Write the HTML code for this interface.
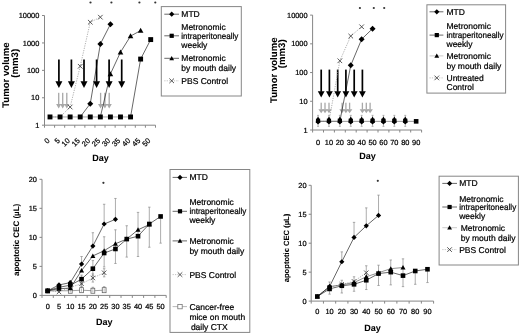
<!DOCTYPE html>
<html><head><meta charset="utf-8"><style>
html,body{margin:0;padding:0;background:#fff;}
svg{display:block;font-family:"Liberation Sans",sans-serif;text-rendering:geometricPrecision;filter:blur(0.3px);}
text{stroke:#000;stroke-width:0.22px;}
text[font-weight=bold]{stroke-width:0.05px;}
</style></head><body>
<svg width="520" height="334" viewBox="0 0 520 334">
<rect width="520" height="334" fill="#fff"/>
<path d="M44.5 15.52V125.2H155.5" stroke="#868686" stroke-width="1" fill="none"/>
<path d="M42.0 125.2H44.5" stroke="#868686" stroke-width="1"/>
<text x="39.3" y="127.85" font-size="7.4" text-anchor="end" fill="#000">1</text>
<path d="M42.0 97.78H44.5" stroke="#868686" stroke-width="1"/>
<text x="39.3" y="100.43" font-size="7.4" text-anchor="end" fill="#000">10</text>
<path d="M42.0 70.36H44.5" stroke="#868686" stroke-width="1"/>
<text x="39.3" y="73.01" font-size="7.4" text-anchor="end" fill="#000">100</text>
<path d="M42.0 42.94H44.5" stroke="#868686" stroke-width="1"/>
<text x="39.3" y="45.59" font-size="7.4" text-anchor="end" fill="#000">1000</text>
<path d="M42.0 15.52H44.5" stroke="#868686" stroke-width="1"/>
<text x="39.3" y="18.17" font-size="7.4" text-anchor="end" fill="#000">10000</text>
<path d="M44.5 125.2V127.7" stroke="#868686" stroke-width="1"/>
<path d="M54.59 125.2V127.7" stroke="#868686" stroke-width="1"/>
<path d="M64.68 125.2V127.7" stroke="#868686" stroke-width="1"/>
<path d="M74.77 125.2V127.7" stroke="#868686" stroke-width="1"/>
<path d="M84.86 125.2V127.7" stroke="#868686" stroke-width="1"/>
<path d="M94.95 125.2V127.7" stroke="#868686" stroke-width="1"/>
<path d="M105.04 125.2V127.7" stroke="#868686" stroke-width="1"/>
<path d="M115.13 125.2V127.7" stroke="#868686" stroke-width="1"/>
<path d="M125.22 125.2V127.7" stroke="#868686" stroke-width="1"/>
<path d="M135.31 125.2V127.7" stroke="#868686" stroke-width="1"/>
<path d="M145.4 125.2V127.7" stroke="#868686" stroke-width="1"/>
<path d="M155.49 125.2V127.7" stroke="#868686" stroke-width="1"/>
<text x="50.3" y="141.2" font-size="7.4" text-anchor="end" fill="#000" transform="rotate(-45 50.3 141.2)">0</text>
<text x="60.37" y="141.2" font-size="7.4" text-anchor="end" fill="#000" transform="rotate(-45 60.37 141.2)">5</text>
<text x="70.44" y="141.2" font-size="7.4" text-anchor="end" fill="#000" transform="rotate(-45 70.44 141.2)">10</text>
<text x="80.51" y="141.2" font-size="7.4" text-anchor="end" fill="#000" transform="rotate(-45 80.51 141.2)">15</text>
<text x="90.58" y="141.2" font-size="7.4" text-anchor="end" fill="#000" transform="rotate(-45 90.58 141.2)">20</text>
<text x="100.65" y="141.2" font-size="7.4" text-anchor="end" fill="#000" transform="rotate(-45 100.65 141.2)">25</text>
<text x="110.72" y="141.2" font-size="7.4" text-anchor="end" fill="#000" transform="rotate(-45 110.72 141.2)">30</text>
<text x="120.79" y="141.2" font-size="7.4" text-anchor="end" fill="#000" transform="rotate(-45 120.79 141.2)">35</text>
<text x="130.86" y="141.2" font-size="7.4" text-anchor="end" fill="#000" transform="rotate(-45 130.86 141.2)">40</text>
<text x="140.93" y="141.2" font-size="7.4" text-anchor="end" fill="#000" transform="rotate(-45 140.93 141.2)">45</text>
<text x="151" y="141.2" font-size="7.4" text-anchor="end" fill="#000" transform="rotate(-45 151 141.2)">50</text>
<text x="100.5" y="160.8" font-size="9" text-anchor="middle" font-weight="bold" fill="#000">Day</text>
<text x="0" y="0" font-size="9.6" text-anchor="middle" font-weight="bold" fill="#000" transform="translate(8.6 75.1) rotate(-90)">Tumor volume</text>
<text x="0" y="0" font-size="9.6" text-anchor="middle" font-weight="bold" fill="#000" transform="translate(17.6 63.3) rotate(-90)">(mm3)</text>
<rect x="58.05" y="59.5" width="1.7" height="22.3" fill="#000"/><path d="M55.4 81.3L62.4 81.3L58.9 88Z" fill="#000"/>
<rect x="70.55" y="59.5" width="1.7" height="22.3" fill="#000"/><path d="M67.9 81.3L74.9 81.3L71.4 88Z" fill="#000"/>
<rect x="83.15" y="59.5" width="1.7" height="22.3" fill="#000"/><path d="M80.5 81.3L87.5 81.3L84 88Z" fill="#000"/>
<rect x="95.75" y="59.5" width="1.7" height="22.3" fill="#000"/><path d="M93.1 81.3L100.1 81.3L96.6 88Z" fill="#000"/>
<rect x="108.25" y="59.5" width="1.7" height="22.3" fill="#000"/><path d="M105.6 81.3L112.6 81.3L109.1 88Z" fill="#000"/>
<rect x="120.85" y="59.5" width="1.7" height="22.3" fill="#000"/><path d="M118.2 81.3L125.2 81.3L121.7 88Z" fill="#000"/>
<rect x="58.05" y="92.8" width="1.3" height="11.7" fill="#a8a8a8"/><path d="M56.1 104L61.3 104L58.7 108.6Z" fill="#a8a8a8"/>
<rect x="62.05" y="92.8" width="1.3" height="11.7" fill="#a8a8a8"/><path d="M60.1 104L65.3 104L62.7 108.6Z" fill="#a8a8a8"/>
<rect x="66.15" y="92.8" width="1.3" height="11.7" fill="#a8a8a8"/><path d="M64.2 104L69.4 104L66.8 108.6Z" fill="#a8a8a8"/>
<rect x="99.95" y="92.8" width="1.3" height="11.7" fill="#a8a8a8"/><path d="M98 104L103.2 104L100.6 108.6Z" fill="#a8a8a8"/>
<rect x="104.25" y="92.8" width="1.3" height="11.7" fill="#a8a8a8"/><path d="M102.3 104L107.5 104L104.9 108.6Z" fill="#a8a8a8"/>
<rect x="108.55" y="92.8" width="1.3" height="11.7" fill="#a8a8a8"/><path d="M106.6 104L111.8 104L109.2 108.6Z" fill="#a8a8a8"/>
<polyline points="50,116.95 60.07,116.95 70.14,107.03 80.21,66.27 90.28,22.21 100.35,17.18" fill="none" stroke="#9a9a9a" stroke-width="0.8" stroke-dasharray="1.2,1.2"/>
<path d="M67.84 104.73L72.44 109.33M72.44 104.73L67.84 109.33" stroke="#444" stroke-width="0.9" fill="none"/>
<path d="M77.91 63.97L82.51 68.57M82.51 63.97L77.91 68.57" stroke="#444" stroke-width="0.9" fill="none"/>
<path d="M87.98 19.91L92.58 24.51M92.58 19.91L87.98 24.51" stroke="#444" stroke-width="0.9" fill="none"/>
<path d="M98.05 14.88L102.65 19.48M102.65 14.88L98.05 19.48" stroke="#444" stroke-width="0.9" fill="none"/>
<polyline points="50,116.95 130.56,116.95" fill="none" stroke="#9a9a9a" stroke-width="0.9"/>
<polyline points="100.35,116.95 110.42,73.95 120.49,52.19 130.56,36.07 140.63,30.59" fill="none" stroke="#000" stroke-width="0.6"/>
<polyline points="80.21,116.95 90.28,103.67 100.35,43.97 110.42,24.26" fill="none" stroke="#000" stroke-width="0.6"/>
<polyline points="130.56,116.95 140.63,59.07 150.7,39.59" fill="none" stroke="#000" stroke-width="0.6"/>
<path d="M110.42 71.15L113.22 76.19L107.62 76.19Z" fill="#000"/>
<path d="M120.49 49.39L123.29 54.43L117.69 54.43Z" fill="#000"/>
<path d="M130.56 33.27L133.36 38.31L127.76 38.31Z" fill="#000"/>
<path d="M140.63 27.79L143.43 32.83L137.83 32.83Z" fill="#000"/>
<path d="M90.28 100.67L93.28 103.67L90.28 106.67L87.28 103.67Z" fill="#000"/>
<path d="M100.35 40.97L103.35 43.97L100.35 46.97L97.35 43.97Z" fill="#000"/>
<path d="M110.42 21.26L113.42 24.26L110.42 27.26L107.42 24.26Z" fill="#000"/>
<rect x="47.55" y="114.5" width="4.9" height="4.9" fill="#000"/>
<rect x="57.62" y="114.5" width="4.9" height="4.9" fill="#000"/>
<rect x="67.69" y="114.5" width="4.9" height="4.9" fill="#000"/>
<rect x="77.76" y="114.5" width="4.9" height="4.9" fill="#000"/>
<rect x="87.83" y="114.5" width="4.9" height="4.9" fill="#000"/>
<rect x="97.9" y="114.5" width="4.9" height="4.9" fill="#000"/>
<rect x="107.97" y="114.5" width="4.9" height="4.9" fill="#000"/>
<rect x="118.04" y="114.5" width="4.9" height="4.9" fill="#000"/>
<rect x="128.11" y="114.5" width="4.9" height="4.9" fill="#000"/>
<rect x="138.18" y="56.62" width="4.9" height="4.9" fill="#000"/>
<rect x="148.25" y="37.14" width="4.9" height="4.9" fill="#000"/>
<circle cx="90.5" cy="2.5" r="1.1" fill="#333"/>
<circle cx="111.4" cy="2.5" r="1.1" fill="#333"/>
<circle cx="139.4" cy="2.5" r="1.1" fill="#333"/>
<circle cx="155.3" cy="2.5" r="1.1" fill="#333"/>
<rect x="161.3" y="6.6" width="80" height="89.4" fill="#fff" stroke="#868686" stroke-width="1"/>
<polyline points="164.3,14.2 179,14.2" fill="none" stroke="#000" stroke-width="0.6"/>
<path d="M171.7 11.6L174.3 14.2L171.7 16.8L169.1 14.2Z" fill="#000"/>
<text x="181.3" y="17.22" font-size="8.5" text-anchor="start" fill="#000">MTD</text>
<polyline points="164.3,35.8 179,35.8" fill="none" stroke="#000" stroke-width="0.6"/>
<rect x="169.6" y="33.7" width="4.2" height="4.2" fill="#000"/>
<text x="181.3" y="29.82" font-size="8.5" text-anchor="start" fill="#000">Metronomic</text>
<text x="181.3" y="38.82" font-size="8.5" text-anchor="start" fill="#000" textLength="57.0" lengthAdjust="spacingAndGlyphs">intraperitoneally</text>
<text x="181.3" y="47.52" font-size="8.5" text-anchor="start" fill="#000">weekly</text>
<polyline points="164.3,58.3 179,58.3" fill="none" stroke="#000" stroke-width="0.6"/>
<path d="M171.7 55.9L174.1 60.22L169.3 60.22Z" fill="#000"/>
<text x="181.3" y="61.32" font-size="8.5" text-anchor="start" fill="#000">Metronomic</text>
<text x="181.3" y="71.42" font-size="8.5" text-anchor="start" fill="#000">by mouth daily</text>
<polyline points="164.3,80.8 179,80.8" fill="none" stroke="#9a9a9a" stroke-width="0.6" stroke-dasharray="1.2,1.2"/>
<path d="M169.4 78.5L174 83.1M174 78.5L169.4 83.1" stroke="#444" stroke-width="0.9" fill="none"/>
<text x="181.3" y="83.82" font-size="8.5" text-anchor="start" fill="#000">PBS Control</text>
<path d="M312.6 15.12V130.0H421.6" stroke="#868686" stroke-width="1" fill="none"/>
<path d="M310.1 130H312.6" stroke="#868686" stroke-width="1"/>
<text x="307.6" y="132.65" font-size="7.4" text-anchor="end" fill="#000">1</text>
<path d="M310.1 101.28H312.6" stroke="#868686" stroke-width="1"/>
<text x="307.6" y="103.93" font-size="7.4" text-anchor="end" fill="#000">10</text>
<path d="M310.1 72.56H312.6" stroke="#868686" stroke-width="1"/>
<text x="307.6" y="75.21" font-size="7.4" text-anchor="end" fill="#000">100</text>
<path d="M310.1 43.84H312.6" stroke="#868686" stroke-width="1"/>
<text x="307.6" y="46.49" font-size="7.4" text-anchor="end" fill="#000">1000</text>
<path d="M310.1 15.12H312.6" stroke="#868686" stroke-width="1"/>
<text x="307.6" y="17.77" font-size="7.4" text-anchor="end" fill="#000">10000</text>
<path d="M312.6 130.0V132.5" stroke="#868686" stroke-width="1"/>
<path d="M323.5 130.0V132.5" stroke="#868686" stroke-width="1"/>
<path d="M334.4 130.0V132.5" stroke="#868686" stroke-width="1"/>
<path d="M345.3 130.0V132.5" stroke="#868686" stroke-width="1"/>
<path d="M356.2 130.0V132.5" stroke="#868686" stroke-width="1"/>
<path d="M367.1 130.0V132.5" stroke="#868686" stroke-width="1"/>
<path d="M378 130.0V132.5" stroke="#868686" stroke-width="1"/>
<path d="M388.9 130.0V132.5" stroke="#868686" stroke-width="1"/>
<path d="M399.8 130.0V132.5" stroke="#868686" stroke-width="1"/>
<path d="M410.7 130.0V132.5" stroke="#868686" stroke-width="1"/>
<path d="M421.6 130.0V132.5" stroke="#868686" stroke-width="1"/>
<text x="318.05" y="144.6" font-size="7.4" text-anchor="middle" fill="#000">0</text>
<text x="328.95" y="144.6" font-size="7.4" text-anchor="middle" fill="#000">10</text>
<text x="339.85" y="144.6" font-size="7.4" text-anchor="middle" fill="#000">20</text>
<text x="350.75" y="144.6" font-size="7.4" text-anchor="middle" fill="#000">30</text>
<text x="361.65" y="144.6" font-size="7.4" text-anchor="middle" fill="#000">40</text>
<text x="372.55" y="144.6" font-size="7.4" text-anchor="middle" fill="#000">50</text>
<text x="383.45" y="144.6" font-size="7.4" text-anchor="middle" fill="#000">60</text>
<text x="394.35" y="144.6" font-size="7.4" text-anchor="middle" fill="#000">70</text>
<text x="405.25" y="144.6" font-size="7.4" text-anchor="middle" fill="#000">80</text>
<text x="416.15" y="144.6" font-size="7.4" text-anchor="middle" fill="#000">90</text>
<text x="367.4" y="159.4" font-size="9" text-anchor="middle" font-weight="bold" fill="#000">Day</text>
<text x="0" y="0" font-size="9.6" text-anchor="middle" font-weight="bold" fill="#000" transform="translate(277.4 70.2) rotate(-90)">Tumor volume</text>
<text x="0" y="0" font-size="9.6" text-anchor="middle" font-weight="bold" fill="#000" transform="translate(285.1 53.8) rotate(-90)">(mm3)</text>
<rect x="320.35" y="69.6" width="1.7" height="22.2" fill="#000"/><path d="M317.8 91.3L324.6 91.3L321.2 97.6Z" fill="#000"/>
<rect x="328.55" y="69.6" width="1.7" height="22.2" fill="#000"/><path d="M326 91.3L332.8 91.3L329.4 97.6Z" fill="#000"/>
<rect x="336.85" y="69.6" width="1.7" height="22.2" fill="#000"/><path d="M334.3 91.3L341.1 91.3L337.7 97.6Z" fill="#000"/>
<rect x="345.05" y="69.6" width="1.7" height="22.2" fill="#000"/><path d="M342.5 91.3L349.3 91.3L345.9 97.6Z" fill="#000"/>
<rect x="353.35" y="69.6" width="1.7" height="22.2" fill="#000"/><path d="M350.8 91.3L357.6 91.3L354.2 97.6Z" fill="#000"/>
<rect x="361.55" y="69.6" width="1.7" height="22.2" fill="#000"/><path d="M359 91.3L365.8 91.3L362.4 97.6Z" fill="#000"/>
<rect x="320.55" y="102.7" width="1.3" height="7" fill="#a8a8a8"/><path d="M318.4 109.2L324 109.2L321.2 113.2Z" fill="#a8a8a8"/>
<rect x="324.35" y="102.7" width="1.3" height="7" fill="#a8a8a8"/><path d="M322.2 109.2L327.8 109.2L325 113.2Z" fill="#a8a8a8"/>
<rect x="328.35" y="102.7" width="1.3" height="7" fill="#a8a8a8"/><path d="M326.2 109.2L331.8 109.2L329 113.2Z" fill="#a8a8a8"/>
<rect x="341.45" y="102.7" width="1.3" height="7" fill="#a8a8a8"/><path d="M339.3 109.2L344.9 109.2L342.1 113.2Z" fill="#a8a8a8"/>
<rect x="345.25" y="102.7" width="1.3" height="7" fill="#a8a8a8"/><path d="M343.1 109.2L348.7 109.2L345.9 113.2Z" fill="#a8a8a8"/>
<rect x="348.95" y="102.7" width="1.3" height="7" fill="#a8a8a8"/><path d="M346.8 109.2L352.4 109.2L349.6 113.2Z" fill="#a8a8a8"/>
<rect x="361.75" y="102.7" width="1.3" height="7" fill="#a8a8a8"/><path d="M359.6 109.2L365.2 109.2L362.4 113.2Z" fill="#a8a8a8"/>
<rect x="365.65" y="102.7" width="1.3" height="7" fill="#a8a8a8"/><path d="M363.5 109.2L369.1 109.2L366.3 113.2Z" fill="#a8a8a8"/>
<rect x="369.45" y="102.7" width="1.3" height="7" fill="#a8a8a8"/><path d="M367.3 109.2L372.9 109.2L370.1 113.2Z" fill="#a8a8a8"/>
<polyline points="318.05,121.35 328.95,121.35 339.85,60.79 350.75,36.1 361.65,26.77" fill="none" stroke="#9a9a9a" stroke-width="0.8" stroke-dasharray="1.2,1.2"/>
<path d="M337.55 58.49L342.15 63.09M342.15 58.49L337.55 63.09" stroke="#444" stroke-width="0.9" fill="none"/>
<path d="M348.45 33.8L353.05 38.4M353.05 33.8L348.45 38.4" stroke="#444" stroke-width="0.9" fill="none"/>
<path d="M359.35 24.47L363.95 29.07M363.95 24.47L359.35 29.07" stroke="#444" stroke-width="0.9" fill="none"/>
<polyline points="318.05,121.35 328.95,121.35 339.85,121.35 350.75,65.37 361.65,39.21 372.55,28.65" fill="none" stroke="#000" stroke-width="0.6"/>
<polyline points="318.05,121.35 328.95,121.35 339.85,121.35 350.75,121.35 361.65,121.35 372.55,121.35 383.45,121.35 394.35,121.35 405.25,121.35 416.15,121.35" fill="none" stroke="#8a8a8a" stroke-width="0.9"/>
<path d="M318.05 115.35V126.35M317.05 115.35H319.05M317.05 126.35H319.05" stroke="#8a8a8a" stroke-width="0.6"/>
<path d="M328.95 115.35V126.35M327.95 115.35H329.95M327.95 126.35H329.95" stroke="#8a8a8a" stroke-width="0.6"/>
<path d="M339.85 115.35V126.35M338.85 115.35H340.85M338.85 126.35H340.85" stroke="#8a8a8a" stroke-width="0.6"/>
<path d="M350.75 115.35V126.35M349.75 115.35H351.75M349.75 126.35H351.75" stroke="#8a8a8a" stroke-width="0.6"/>
<path d="M361.65 115.35V126.35M360.65 115.35H362.65M360.65 126.35H362.65" stroke="#8a8a8a" stroke-width="0.6"/>
<path d="M372.55 115.35V126.35M371.55 115.35H373.55M371.55 126.35H373.55" stroke="#8a8a8a" stroke-width="0.6"/>
<path d="M383.45 115.35V126.35M382.45 115.35H384.45M382.45 126.35H384.45" stroke="#8a8a8a" stroke-width="0.6"/>
<path d="M394.35 115.35V126.35M393.35 115.35H395.35M393.35 126.35H395.35" stroke="#8a8a8a" stroke-width="0.6"/>
<path d="M405.25 115.35V126.35M404.25 115.35H406.25M404.25 126.35H406.25" stroke="#8a8a8a" stroke-width="0.6"/>
<path d="M318.05 116.45L320.35 120.59L315.75 120.59Z" fill="#000"/>
<path d="M318.05 119.35L320.65 121.95L318.05 124.55L315.45 121.95Z" fill="#000"/>
<rect x="315.95" y="118.65" width="4.2" height="4.2" fill="#000"/>
<path d="M328.95 116.45L331.25 120.59L326.65 120.59Z" fill="#000"/>
<path d="M328.95 119.35L331.55 121.95L328.95 124.55L326.35 121.95Z" fill="#000"/>
<rect x="326.85" y="118.65" width="4.2" height="4.2" fill="#000"/>
<path d="M339.85 116.45L342.15 120.59L337.55 120.59Z" fill="#000"/>
<path d="M339.85 119.35L342.45 121.95L339.85 124.55L337.25 121.95Z" fill="#000"/>
<rect x="337.75" y="118.65" width="4.2" height="4.2" fill="#000"/>
<path d="M350.75 116.45L353.05 120.59L348.45 120.59Z" fill="#000"/>
<path d="M350.75 119.35L353.35 121.95L350.75 124.55L348.15 121.95Z" fill="#000"/>
<rect x="348.65" y="118.65" width="4.2" height="4.2" fill="#000"/>
<path d="M361.65 116.45L363.95 120.59L359.35 120.59Z" fill="#000"/>
<path d="M361.65 119.35L364.25 121.95L361.65 124.55L359.05 121.95Z" fill="#000"/>
<rect x="359.55" y="118.65" width="4.2" height="4.2" fill="#000"/>
<path d="M372.55 116.45L374.85 120.59L370.25 120.59Z" fill="#000"/>
<path d="M372.55 119.35L375.15 121.95L372.55 124.55L369.95 121.95Z" fill="#000"/>
<rect x="370.45" y="118.65" width="4.2" height="4.2" fill="#000"/>
<path d="M383.45 116.45L385.75 120.59L381.15 120.59Z" fill="#000"/>
<path d="M383.45 119.35L386.05 121.95L383.45 124.55L380.85 121.95Z" fill="#000"/>
<rect x="381.35" y="118.65" width="4.2" height="4.2" fill="#000"/>
<path d="M394.35 116.45L396.65 120.59L392.05 120.59Z" fill="#000"/>
<path d="M394.35 119.35L396.95 121.95L394.35 124.55L391.75 121.95Z" fill="#000"/>
<rect x="392.25" y="118.65" width="4.2" height="4.2" fill="#000"/>
<path d="M405.25 116.45L407.55 120.59L402.95 120.59Z" fill="#000"/>
<path d="M405.25 119.35L407.85 121.95L405.25 124.55L402.65 121.95Z" fill="#000"/>
<rect x="403.15" y="118.65" width="4.2" height="4.2" fill="#000"/>
<rect x="413.85" y="119.05" width="4.6" height="4.6" fill="#000"/>
<path d="M350.75 62.37L353.75 65.37L350.75 68.37L347.75 65.37Z" fill="#000"/>
<path d="M361.65 36.21L364.65 39.21L361.65 42.21L358.65 39.21Z" fill="#000"/>
<path d="M372.55 25.65L375.55 28.65L372.55 31.65L369.55 28.65Z" fill="#000"/>
<circle cx="359.9" cy="8" r="1.1" fill="#333"/>
<circle cx="373.8" cy="8" r="1.1" fill="#333"/>
<circle cx="384.2" cy="8" r="1.1" fill="#333"/>
<rect x="426.9" y="4.8" width="78.7" height="88.3" fill="#fff" stroke="#868686" stroke-width="1"/>
<polyline points="429.5,11.8 443.4,11.8" fill="none" stroke="#000" stroke-width="0.6"/>
<path d="M436.8 9.2L439.4 11.8L436.8 14.4L434.2 11.8Z" fill="#000"/>
<text x="446.5" y="14.82" font-size="8.5" text-anchor="start" fill="#000">MTD</text>
<polyline points="429.5,35.1 443.4,35.1" fill="none" stroke="#000" stroke-width="0.6"/>
<rect x="434.7" y="33" width="4.2" height="4.2" fill="#000"/>
<text x="446.5" y="29.32" font-size="8.5" text-anchor="start" fill="#000">Metronomic</text>
<text x="446.5" y="38.12" font-size="8.5" text-anchor="start" fill="#000" textLength="57.0" lengthAdjust="spacingAndGlyphs">intraperitoneally</text>
<text x="446.5" y="46.82" font-size="8.5" text-anchor="start" fill="#000">weekly</text>
<polyline points="429.5,55.9 443.4,55.9" fill="none" stroke="#a8a8a8" stroke-width="0.6"/>
<path d="M436.8 53.5L439.2 57.82L434.4 57.82Z" fill="#000"/>
<text x="446.5" y="58.92" font-size="8.5" text-anchor="start" fill="#000">Metronomic</text>
<text x="446.5" y="68.82" font-size="8.5" text-anchor="start" fill="#000">by mouth daily</text>
<polyline points="429.5,77.9 443.4,77.9" fill="none" stroke="#9a9a9a" stroke-width="0.6" stroke-dasharray="1.2,1.2"/>
<path d="M434.5 75.6L439.1 80.2M439.1 75.6L434.5 80.2" stroke="#444" stroke-width="0.9" fill="none"/>
<text x="446.5" y="80.92" font-size="8.5" text-anchor="start" fill="#000">Untreated</text>
<text x="446.5" y="90.42" font-size="8.5" text-anchor="start" fill="#000">Control</text>
<path d="M42.0 179.3V295.4H166.2" stroke="#868686" stroke-width="1" fill="none"/>
<path d="M39.5 295.4H42.0" stroke="#868686" stroke-width="1"/>
<text x="36.9" y="298.05" font-size="7.4" text-anchor="end" fill="#000">0</text>
<path d="M39.5 266.38H42.0" stroke="#868686" stroke-width="1"/>
<text x="36.9" y="269.02" font-size="7.4" text-anchor="end" fill="#000">5</text>
<path d="M39.5 237.35H42.0" stroke="#868686" stroke-width="1"/>
<text x="36.9" y="240" font-size="7.4" text-anchor="end" fill="#000">10</text>
<path d="M39.5 208.32H42.0" stroke="#868686" stroke-width="1"/>
<text x="36.9" y="210.97" font-size="7.4" text-anchor="end" fill="#000">15</text>
<path d="M39.5 179.3H42.0" stroke="#868686" stroke-width="1"/>
<text x="36.9" y="181.95" font-size="7.4" text-anchor="end" fill="#000">20</text>
<path d="M42 295.4V297.9" stroke="#868686" stroke-width="1"/>
<path d="M53.29 295.4V297.9" stroke="#868686" stroke-width="1"/>
<path d="M64.58 295.4V297.9" stroke="#868686" stroke-width="1"/>
<path d="M75.87 295.4V297.9" stroke="#868686" stroke-width="1"/>
<path d="M87.16 295.4V297.9" stroke="#868686" stroke-width="1"/>
<path d="M98.45 295.4V297.9" stroke="#868686" stroke-width="1"/>
<path d="M109.74 295.4V297.9" stroke="#868686" stroke-width="1"/>
<path d="M121.03 295.4V297.9" stroke="#868686" stroke-width="1"/>
<path d="M132.32 295.4V297.9" stroke="#868686" stroke-width="1"/>
<path d="M143.61 295.4V297.9" stroke="#868686" stroke-width="1"/>
<path d="M154.9 295.4V297.9" stroke="#868686" stroke-width="1"/>
<path d="M166.19 295.4V297.9" stroke="#868686" stroke-width="1"/>
<text x="47.7" y="309.4" font-size="7.4" text-anchor="middle" fill="#000">0</text>
<text x="58.99" y="309.4" font-size="7.4" text-anchor="middle" fill="#000">5</text>
<text x="70.28" y="309.4" font-size="7.4" text-anchor="middle" fill="#000">10</text>
<text x="81.57" y="309.4" font-size="7.4" text-anchor="middle" fill="#000">15</text>
<text x="92.86" y="309.4" font-size="7.4" text-anchor="middle" fill="#000">20</text>
<text x="104.15" y="309.4" font-size="7.4" text-anchor="middle" fill="#000">25</text>
<text x="115.44" y="309.4" font-size="7.4" text-anchor="middle" fill="#000">30</text>
<text x="126.73" y="309.4" font-size="7.4" text-anchor="middle" fill="#000">35</text>
<text x="138.02" y="309.4" font-size="7.4" text-anchor="middle" fill="#000">40</text>
<text x="149.31" y="309.4" font-size="7.4" text-anchor="middle" fill="#000">45</text>
<text x="160.6" y="309.4" font-size="7.4" text-anchor="middle" fill="#000">50</text>
<text x="104.2" y="325" font-size="9" text-anchor="middle" font-weight="bold" fill="#000">Day</text>
<text x="0" y="0" font-size="8.0" text-anchor="middle" font-weight="bold" fill="#000" transform="translate(19.0 239.8) rotate(-90)">apoptotic CEC (µL)</text>
<path d="M81.57 256.51V264.05M80.37 256.51H82.77M80.37 264.05H82.77" stroke="#8a8a8a" stroke-width="0.7"/>
<path d="M92.86 232.71V246.06M91.66 232.71H94.06M91.66 246.06H94.06" stroke="#8a8a8a" stroke-width="0.7"/>
<path d="M104.15 204.26V223.42M102.95 204.26H105.35M102.95 223.42H105.35" stroke="#8a8a8a" stroke-width="0.7"/>
<path d="M115.44 198.46V218.77M114.24 198.46H116.64M114.24 218.77H116.64" stroke="#8a8a8a" stroke-width="0.7"/>
<path d="M104.15 236.77V266.96M102.95 236.77H105.35M102.95 266.96H105.35" stroke="#8a8a8a" stroke-width="0.7"/>
<path d="M115.44 229.8V263.47M114.24 229.8H116.64M114.24 263.47H116.64" stroke="#8a8a8a" stroke-width="0.7"/>
<path d="M126.73 225.74V257.09M125.53 225.74H127.93M125.53 257.09H127.93" stroke="#8a8a8a" stroke-width="0.7"/>
<path d="M138.02 212.39V256.51M136.82 212.39H139.22M136.82 256.51H139.22" stroke="#8a8a8a" stroke-width="0.7"/>
<path d="M149.31 207.16V247.22M148.11 207.16H150.51M148.11 247.22H150.51" stroke="#8a8a8a" stroke-width="0.7"/>
<path d="M160.6 216.45V243.15M159.4 216.45H161.8M159.4 243.15H161.8" stroke="#8a8a8a" stroke-width="0.7"/>
<path d="M92.86 260.57V275.66M91.66 260.57H94.06M91.66 275.66H94.06" stroke="#8a8a8a" stroke-width="0.7"/>
<path d="M81.57 275.08V283.79M80.37 275.08H82.77M80.37 283.79H82.77" stroke="#8a8a8a" stroke-width="0.7"/>
<path d="M58.99 283.79V289.59M57.79 283.79H60.19M57.79 289.59H60.19" stroke="#8a8a8a" stroke-width="0.7"/>
<path d="M70.28 280.89V288.43M69.08 280.89H71.48M69.08 288.43H71.48" stroke="#8a8a8a" stroke-width="0.7"/>
<path d="M81.57 279.73V287.27M80.37 279.73H82.77M80.37 287.27H82.77" stroke="#8a8a8a" stroke-width="0.7"/>
<path d="M92.86 273.92V282.05M91.66 273.92H94.06M91.66 282.05H94.06" stroke="#8a8a8a" stroke-width="0.7"/>
<path d="M104.15 268.7V276.82M102.95 268.7H105.35M102.95 276.82H105.35" stroke="#8a8a8a" stroke-width="0.7"/>
<path d="M81.57 286.69V290.18M80.37 286.69H82.77M80.37 290.18H82.77" stroke="#8a8a8a" stroke-width="0.7"/>
<path d="M92.86 287.27V290.76M91.66 287.27H94.06M91.66 290.76H94.06" stroke="#8a8a8a" stroke-width="0.7"/>
<path d="M104.15 286.69V290.18M102.95 286.69H105.35M102.95 290.18H105.35" stroke="#8a8a8a" stroke-width="0.7"/>
<polyline points="47.7,290.76 58.99,290.76 70.28,290.76 81.57,290.18 92.86,290.76 104.15,290.18" fill="none" stroke="#888" stroke-width="0.8"/>
<polyline points="47.7,290.76 58.99,291.92 70.28,287.27 81.57,283.79 92.86,277.98 104.15,272.76" fill="none" stroke="#9a9a9a" stroke-width="0.8" stroke-dasharray="1.2,1.2"/>
<polyline points="47.7,290.76 58.99,288.72 70.28,288.14 81.57,270.44 92.86,255.93 104.15,250.7 115.44,243.74 126.73,239.09 138.02,229.8 149.31,224.58" fill="none" stroke="#000" stroke-width="0.6"/>
<polyline points="47.7,290.76 58.99,287.27 70.28,285.24 81.57,279.15 92.86,268.7 104.15,253.02 115.44,248.96 126.73,239.09 138.02,236.19 149.31,224 160.6,216.45" fill="none" stroke="#000" stroke-width="0.6"/>
<polyline points="47.7,290.76 58.99,284.95 70.28,282.63 81.57,264.05 92.86,246.06 104.15,224 115.44,219.35" fill="none" stroke="#000" stroke-width="0.6"/>
<rect x="68.38" y="288.26" width="3.8" height="5" fill="#fff" stroke="#666" stroke-width="0.8"/>
<path d="M70.28 289.16V292.36" stroke="#888" stroke-width="0.6"/>
<rect x="79.67" y="287.68" width="3.8" height="5" fill="#fff" stroke="#666" stroke-width="0.8"/>
<path d="M81.57 288.58V291.78" stroke="#888" stroke-width="0.6"/>
<rect x="90.96" y="288.26" width="3.8" height="5" fill="#fff" stroke="#666" stroke-width="0.8"/>
<path d="M92.86 289.16V292.36" stroke="#888" stroke-width="0.6"/>
<rect x="102.25" y="287.68" width="3.8" height="5" fill="#fff" stroke="#666" stroke-width="0.8"/>
<path d="M104.15 288.58V291.78" stroke="#888" stroke-width="0.6"/>
<path d="M56.79 289.72L61.19 294.12M61.19 289.72L56.79 294.12" stroke="#444" stroke-width="0.9" fill="none"/>
<path d="M68.08 285.07L72.48 289.47M72.48 285.07L68.08 289.47" stroke="#444" stroke-width="0.9" fill="none"/>
<path d="M79.37 281.59L83.77 285.99M83.77 281.59L79.37 285.99" stroke="#444" stroke-width="0.9" fill="none"/>
<path d="M90.66 275.78L95.06 280.18M95.06 275.78L90.66 280.18" stroke="#444" stroke-width="0.9" fill="none"/>
<path d="M101.95 270.56L106.35 274.96M106.35 270.56L101.95 274.96" stroke="#444" stroke-width="0.9" fill="none"/>
<path d="M47.7 288.26L50.2 292.76L45.2 292.76Z" fill="#000"/>
<path d="M58.99 286.22L61.49 290.72L56.49 290.72Z" fill="#000"/>
<path d="M70.28 285.64L72.78 290.14L67.78 290.14Z" fill="#000"/>
<path d="M81.57 267.94L84.07 272.44L79.07 272.44Z" fill="#000"/>
<path d="M92.86 253.43L95.36 257.93L90.36 257.93Z" fill="#000"/>
<path d="M104.15 248.2L106.65 252.7L101.65 252.7Z" fill="#000"/>
<path d="M115.44 241.24L117.94 245.74L112.94 245.74Z" fill="#000"/>
<path d="M126.73 236.59L129.23 241.09L124.23 241.09Z" fill="#000"/>
<path d="M138.02 227.3L140.52 231.8L135.52 231.8Z" fill="#000"/>
<path d="M149.31 222.08L151.81 226.58L146.81 226.58Z" fill="#000"/>
<rect x="45.4" y="288.46" width="4.6" height="4.6" fill="#000"/>
<rect x="56.69" y="284.97" width="4.6" height="4.6" fill="#000"/>
<rect x="67.98" y="282.94" width="4.6" height="4.6" fill="#000"/>
<rect x="79.27" y="276.85" width="4.6" height="4.6" fill="#000"/>
<rect x="90.56" y="266.4" width="4.6" height="4.6" fill="#000"/>
<rect x="101.85" y="250.72" width="4.6" height="4.6" fill="#000"/>
<rect x="113.14" y="246.66" width="4.6" height="4.6" fill="#000"/>
<rect x="124.43" y="236.79" width="4.6" height="4.6" fill="#000"/>
<rect x="135.72" y="233.89" width="4.6" height="4.6" fill="#000"/>
<rect x="147.01" y="221.7" width="4.6" height="4.6" fill="#000"/>
<rect x="158.3" y="214.15" width="4.6" height="4.6" fill="#000"/>
<path d="M47.7 288.16L50.3 290.76L47.7 293.36L45.1 290.76Z" fill="#000"/>
<path d="M58.99 282.35L61.59 284.95L58.99 287.55L56.39 284.95Z" fill="#000"/>
<path d="M70.28 280.03L72.88 282.63L70.28 285.23L67.68 282.63Z" fill="#000"/>
<path d="M81.57 261.45L84.17 264.05L81.57 266.65L78.97 264.05Z" fill="#000"/>
<path d="M92.86 243.46L95.46 246.06L92.86 248.66L90.26 246.06Z" fill="#000"/>
<path d="M104.15 221.4L106.75 224L104.15 226.6L101.55 224Z" fill="#000"/>
<path d="M115.44 216.75L118.04 219.35L115.44 221.95L112.84 219.35Z" fill="#000"/>
<rect x="45.4" y="288.75" width="4.6" height="4.6" fill="#000"/>
<circle cx="103.4" cy="182.8" r="1.1" fill="#333"/>
<rect x="170" y="169.5" width="79.8" height="162.9" fill="#fff" stroke="#868686" stroke-width="1"/>
<polyline points="172.6,177.4 187,177.4" fill="none" stroke="#000" stroke-width="0.6"/>
<path d="M180 174.8L182.6 177.4L180 180L177.4 177.4Z" fill="#000"/>
<text x="189.4" y="180.42" font-size="8.5" text-anchor="start" fill="#000">MTD</text>
<polyline points="172.6,211.3 187,211.3" fill="none" stroke="#000" stroke-width="0.6"/>
<rect x="177.9" y="209.2" width="4.2" height="4.2" fill="#000"/>
<text x="189.4" y="204.82" font-size="8.5" text-anchor="start" fill="#000">Metronomic</text>
<text x="189.4" y="214.32" font-size="8.5" text-anchor="start" fill="#000" textLength="57.0" lengthAdjust="spacingAndGlyphs">intraperitoneally</text>
<text x="189.4" y="223.02" font-size="8.5" text-anchor="start" fill="#000">weekly</text>
<polyline points="172.6,240.9 187,240.9" fill="none" stroke="#000" stroke-width="0.6"/>
<path d="M180 238.5L182.4 242.82L177.6 242.82Z" fill="#000"/>
<text x="189.4" y="243.92" font-size="8.5" text-anchor="start" fill="#000">Metronomic</text>
<text x="189.4" y="254.32" font-size="8.5" text-anchor="start" fill="#000">by mouth daily</text>
<polyline points="172.6,274.6 187,274.6" fill="none" stroke="#9a9a9a" stroke-width="0.6" stroke-dasharray="1.2,1.2"/>
<path d="M177.7 272.3L182.3 276.9M182.3 272.3L177.7 276.9" stroke="#444" stroke-width="0.9" fill="none"/>
<text x="189.4" y="277.62" font-size="8.5" text-anchor="start" fill="#000">PBS Control</text>
<polyline points="172.6,306.6 187,306.6" fill="none" stroke="#888" stroke-width="0.6"/>
<rect x="177.8" y="304.4" width="4.4" height="4.4" fill="#fff" stroke="#777" stroke-width="0.8"/>
<text x="189.4" y="309.82" font-size="8.5" text-anchor="start" fill="#000">Cancer-free</text>
<text x="189.4" y="319.92" font-size="8.5" text-anchor="start" fill="#000">mice on mouth</text>
<text x="190.9" y="329.62" font-size="8.5" text-anchor="start" fill="#000">daily CTX</text>
<path d="M311.2 185.3V301.1H433.6" stroke="#868686" stroke-width="1" fill="none"/>
<path d="M308.7 301.1H311.2" stroke="#868686" stroke-width="1"/>
<text x="306.6" y="303.75" font-size="7.4" text-anchor="end" fill="#000">0</text>
<path d="M308.7 272.15H311.2" stroke="#868686" stroke-width="1"/>
<text x="306.6" y="274.8" font-size="7.4" text-anchor="end" fill="#000">5</text>
<path d="M308.7 243.2H311.2" stroke="#868686" stroke-width="1"/>
<text x="306.6" y="245.85" font-size="7.4" text-anchor="end" fill="#000">10</text>
<path d="M308.7 214.25H311.2" stroke="#868686" stroke-width="1"/>
<text x="306.6" y="216.9" font-size="7.4" text-anchor="end" fill="#000">15</text>
<path d="M308.7 185.3H311.2" stroke="#868686" stroke-width="1"/>
<text x="306.6" y="187.95" font-size="7.4" text-anchor="end" fill="#000">20</text>
<path d="M311.2 301.1V303.6" stroke="#868686" stroke-width="1"/>
<path d="M323.44 301.1V303.6" stroke="#868686" stroke-width="1"/>
<path d="M335.68 301.1V303.6" stroke="#868686" stroke-width="1"/>
<path d="M347.92 301.1V303.6" stroke="#868686" stroke-width="1"/>
<path d="M360.16 301.1V303.6" stroke="#868686" stroke-width="1"/>
<path d="M372.4 301.1V303.6" stroke="#868686" stroke-width="1"/>
<path d="M384.64 301.1V303.6" stroke="#868686" stroke-width="1"/>
<path d="M396.88 301.1V303.6" stroke="#868686" stroke-width="1"/>
<path d="M409.12 301.1V303.6" stroke="#868686" stroke-width="1"/>
<path d="M421.36 301.1V303.6" stroke="#868686" stroke-width="1"/>
<path d="M433.6 301.1V303.6" stroke="#868686" stroke-width="1"/>
<text x="317.32" y="314.3" font-size="7.4" text-anchor="middle" fill="#000">0</text>
<text x="329.56" y="314.3" font-size="7.4" text-anchor="middle" fill="#000">10</text>
<text x="341.8" y="314.3" font-size="7.4" text-anchor="middle" fill="#000">20</text>
<text x="354.04" y="314.3" font-size="7.4" text-anchor="middle" fill="#000">30</text>
<text x="366.28" y="314.3" font-size="7.4" text-anchor="middle" fill="#000">40</text>
<text x="378.52" y="314.3" font-size="7.4" text-anchor="middle" fill="#000">50</text>
<text x="390.76" y="314.3" font-size="7.4" text-anchor="middle" fill="#000">60</text>
<text x="403" y="314.3" font-size="7.4" text-anchor="middle" fill="#000">70</text>
<text x="415.24" y="314.3" font-size="7.4" text-anchor="middle" fill="#000">80</text>
<text x="427.48" y="314.3" font-size="7.4" text-anchor="middle" fill="#000">90</text>
<text x="372.4" y="330.6" font-size="9" text-anchor="middle" font-weight="bold" fill="#000">Day</text>
<text x="0" y="0" font-size="7.6" text-anchor="middle" font-weight="bold" fill="#000" transform="translate(288.6 248.0) rotate(-90)">apoptotic CEC (µL)</text>
<path d="M341.8 251.89V261.73M340.6 251.89H343M340.6 261.73H343" stroke="#8a8a8a" stroke-width="0.7"/>
<path d="M354.04 222.36V237.41M352.84 222.36H355.24M352.84 237.41H355.24" stroke="#8a8a8a" stroke-width="0.7"/>
<path d="M366.28 207.88V225.83M365.08 207.88H367.48M365.08 225.83H367.48" stroke="#8a8a8a" stroke-width="0.7"/>
<path d="M378.52 195.14V215.41M377.32 195.14H379.72M377.32 215.41H379.72" stroke="#8a8a8a" stroke-width="0.7"/>
<path d="M329.56 281.99V294.15M328.36 281.99H330.76M328.36 294.15H330.76" stroke="#8a8a8a" stroke-width="0.7"/>
<path d="M341.8 280.26V292.99M340.6 280.26H343M340.6 292.99H343" stroke="#8a8a8a" stroke-width="0.7"/>
<path d="M354.04 276.78V291.26M352.84 276.78H355.24M352.84 291.26H355.24" stroke="#8a8a8a" stroke-width="0.7"/>
<path d="M366.28 265.78V289.52M365.08 265.78H367.48M365.08 289.52H367.48" stroke="#8a8a8a" stroke-width="0.7"/>
<path d="M378.52 265.2V285.47M377.32 265.2H379.72M377.32 285.47H379.72" stroke="#8a8a8a" stroke-width="0.7"/>
<path d="M390.76 259.99V284.89M389.56 259.99H391.96M389.56 284.89H391.96" stroke="#8a8a8a" stroke-width="0.7"/>
<path d="M403 258.83V286.62M401.8 258.83H404.2M401.8 286.62H404.2" stroke="#8a8a8a" stroke-width="0.7"/>
<path d="M415.24 270.99V284.31M414.04 270.99H416.44M414.04 284.31H416.44" stroke="#8a8a8a" stroke-width="0.7"/>
<path d="M427.48 269.25V282.57M426.28 269.25H428.68M426.28 282.57H428.68" stroke="#8a8a8a" stroke-width="0.7"/>
<polyline points="317.32,296.47 329.56,287.2 341.8,284.31 354.04,281.41 366.28,272.73" fill="none" stroke="#9a9a9a" stroke-width="0.8" stroke-dasharray="1.2,1.2"/>
<polyline points="317.32,296.47 329.56,286.62 341.8,284.89 354.04,282.57 366.28,276.78 378.52,272.73 390.76,268.68 403,267.52" fill="none" stroke="#444" stroke-width="0.6"/>
<polyline points="317.32,296.47 329.56,288.94 341.8,285.76 354.04,284.31 366.28,280.26 378.52,273.6 390.76,272.15 403,275.62 415.24,270.99 427.48,269.25" fill="none" stroke="#000" stroke-width="0.6"/>
<polyline points="317.32,296.47 329.56,286.62 341.8,261.73 354.04,237.41 366.28,225.83 378.52,215.41" fill="none" stroke="#000" stroke-width="0.6"/>
<path d="M327.36 285L331.76 289.4M331.76 285L327.36 289.4" stroke="#444" stroke-width="0.9" fill="none"/>
<path d="M339.6 282.11L344 286.51M344 282.11L339.6 286.51" stroke="#444" stroke-width="0.9" fill="none"/>
<path d="M351.84 279.21L356.24 283.61M356.24 279.21L351.84 283.61" stroke="#444" stroke-width="0.9" fill="none"/>
<path d="M364.08 270.53L368.48 274.93M368.48 270.53L364.08 274.93" stroke="#444" stroke-width="0.9" fill="none"/>
<path d="M317.32 293.97L319.82 298.47L314.82 298.47Z" fill="#000"/>
<path d="M329.56 284.12L332.06 288.62L327.06 288.62Z" fill="#000"/>
<path d="M341.8 282.39L344.3 286.89L339.3 286.89Z" fill="#000"/>
<path d="M354.04 280.07L356.54 284.57L351.54 284.57Z" fill="#000"/>
<path d="M366.28 274.28L368.78 278.78L363.78 278.78Z" fill="#000"/>
<path d="M378.52 270.23L381.02 274.73L376.02 274.73Z" fill="#000"/>
<path d="M390.76 266.18L393.26 270.68L388.26 270.68Z" fill="#000"/>
<path d="M403 265.02L405.5 269.52L400.5 269.52Z" fill="#000"/>
<rect x="315.02" y="294.17" width="4.6" height="4.6" fill="#000"/>
<rect x="327.26" y="286.64" width="4.6" height="4.6" fill="#000"/>
<rect x="339.5" y="283.46" width="4.6" height="4.6" fill="#000"/>
<rect x="351.74" y="282.01" width="4.6" height="4.6" fill="#000"/>
<rect x="363.98" y="277.96" width="4.6" height="4.6" fill="#000"/>
<rect x="376.22" y="271.3" width="4.6" height="4.6" fill="#000"/>
<rect x="388.46" y="269.85" width="4.6" height="4.6" fill="#000"/>
<rect x="400.7" y="273.32" width="4.6" height="4.6" fill="#000"/>
<rect x="412.94" y="268.69" width="4.6" height="4.6" fill="#000"/>
<rect x="425.18" y="266.95" width="4.6" height="4.6" fill="#000"/>
<path d="M329.56 284.02L332.16 286.62L329.56 289.23L326.96 286.62Z" fill="#000"/>
<path d="M341.8 259.13L344.4 261.73L341.8 264.33L339.2 261.73Z" fill="#000"/>
<path d="M354.04 234.81L356.64 237.41L354.04 240.01L351.44 237.41Z" fill="#000"/>
<path d="M366.28 223.23L368.88 225.83L366.28 228.43L363.68 225.83Z" fill="#000"/>
<path d="M378.52 212.81L381.12 215.41L378.52 218.01L375.92 215.41Z" fill="#000"/>
<circle cx="377.8" cy="180.8" r="1.1" fill="#333"/>
<rect x="439.1" y="176.2" width="79.3" height="88.8" fill="#fff" stroke="#868686" stroke-width="1"/>
<polyline points="442.3,183.4 457,183.4" fill="none" stroke="#000" stroke-width="0.6"/>
<path d="M449.6 180.8L452.2 183.4L449.6 186L447 183.4Z" fill="#000"/>
<text x="459.2" y="186.42" font-size="8.5" text-anchor="start" fill="#000">MTD</text>
<polyline points="442.3,207 457,207" fill="none" stroke="#000" stroke-width="0.6"/>
<rect x="447.5" y="204.9" width="4.2" height="4.2" fill="#000"/>
<text x="459.2" y="201.72" font-size="8.5" text-anchor="start" fill="#000">Metronomic</text>
<text x="459.2" y="210.42" font-size="8.5" text-anchor="start" fill="#000" textLength="57.0" lengthAdjust="spacingAndGlyphs">intraperitoneally</text>
<text x="459.2" y="219.12" font-size="8.5" text-anchor="start" fill="#000">weekly</text>
<polyline points="442.3,227.7 457,227.7" fill="none" stroke="#a8a8a8" stroke-width="0.6"/>
<path d="M449.6 225.3L452 229.62L447.2 229.62Z" fill="#000"/>
<text x="460.7" y="230.72" font-size="8.5" text-anchor="start" fill="#000">Metronomic</text>
<text x="460.7" y="240.92" font-size="8.5" text-anchor="start" fill="#000">by mouth daily</text>
<polyline points="442.3,249.6 457,249.6" fill="none" stroke="#9a9a9a" stroke-width="0.6" stroke-dasharray="1.2,1.2"/>
<path d="M447.3 247.3L451.9 251.9M451.9 247.3L447.3 251.9" stroke="#444" stroke-width="0.9" fill="none"/>
<text x="459.2" y="252.62" font-size="8.5" text-anchor="start" fill="#000">PBS Control</text>
</svg>
</body></html>
